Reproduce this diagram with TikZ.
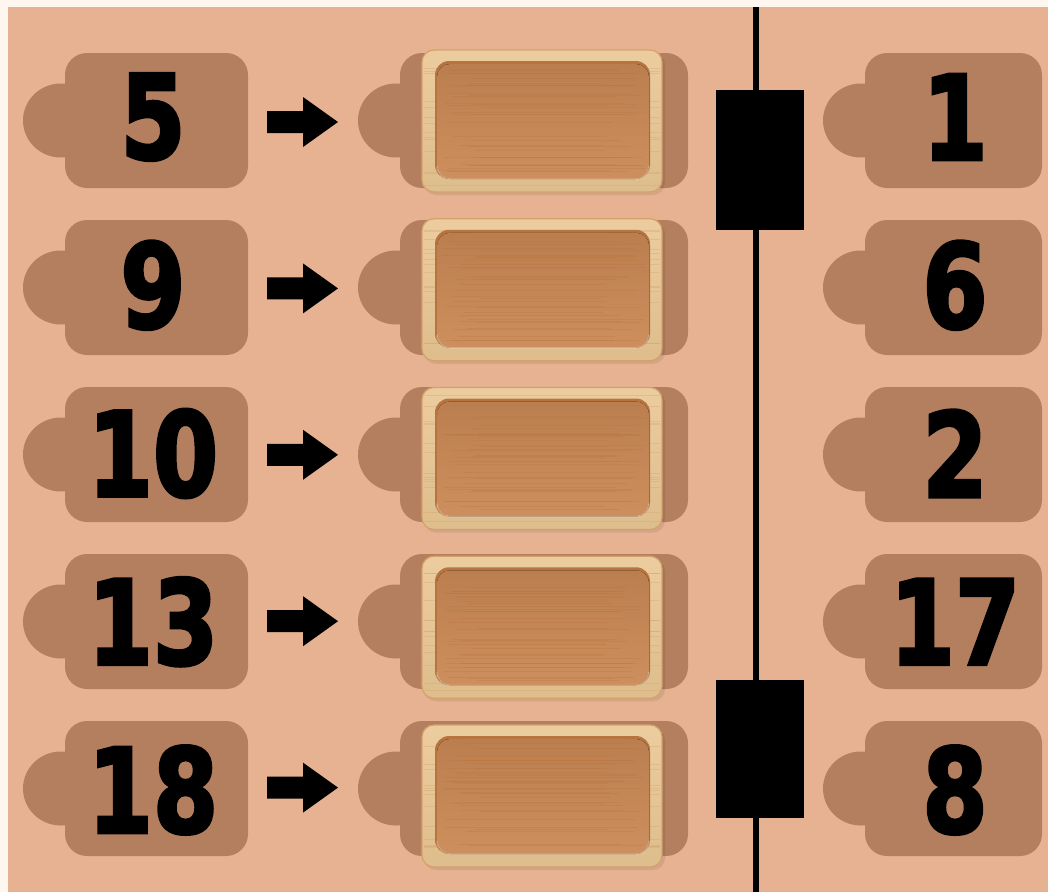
\documentclass[tikz,border=0pt]{standalone}
\usepackage{fontspec}
\usepackage{graphicx}
\usetikzlibrary{calc}
\newfontfamily\numfont{DejaVu Sans Bold}[FakeBold=3]
\definecolor{bg}{HTML}{E6B292}
\definecolor{tabc}{HTML}{B47F5F}
\definecolor{paper}{HTML}{FDF7F0}
\definecolor{woodlight}{HTML}{EAC794}
\definecolor{woodedge}{HTML}{D3A26B}
\definecolor{woodin}{HTML}{CB8955}
\definecolor{woodindark}{HTML}{B8743F}
\newcommand{\mytab}[3]{% bump left x, rect right x, centre y
  \fill[tabc] (#1+38,#3) ellipse[x radius=38pt,y radius=37pt];
  \fill[tabc, rounded corners=22pt] (#1+42,#3-67.5) rectangle (#2,#3+67.5);
}
\newcommand{\mytray}[2]{% centre x, centre y
  \fill[black,opacity=0.08, rounded corners=12pt] (#1-118,#2-68) rectangle (#1+123,#2+74);
  \filldraw[woodedge, line width=1.2pt, top color=woodlight!90!white, bottom color=woodlight!95!black, rounded corners=12pt] (#1-120,#2-71) rectangle (#1+120,#2+71);
  \foreach \k in {1,...,14} {
    \pgfmathsetmacro\gy{#2-69+rnd*138}
    \draw[woodedge, opacity=0.35, line width=0.5pt] (#1-118,\gy) -- (#1+118,\gy);
  }
  \fill[woodindark, rounded corners=14pt] (#1-107,#2-60) rectangle (#1+108,#2+58);
  \fill[top color=woodin!92!black, bottom color=woodin!95!white, rounded corners=13pt] (#1-105,#2-57) rectangle (#1+107,#2+58);
  \draw[white, opacity=0.35, line width=1pt, rounded corners=13pt] (#1-105,#2+50) -- (#1-105,#2+58) -- (#1+107,#2+58) -- (#1+107,#2+45);
  \foreach \k in {1,...,34} {
    \pgfmathsetmacro\gy{#2-54+rnd*108}
    \pgfmathsetmacro\gx{#1-100+rnd*40}
    \pgfmathsetmacro\gz{#1+60+rnd*44}
    \draw[woodindark, opacity=0.28, line width=0.5pt] (\gx,\gy) -- (\gz,\gy);
  }
}
\begin{document}
\begin{tikzpicture}[x=1pt,y=-1pt,
  numtext/.style={font=\numfont\fontsize{117}{117}\selectfont, inner sep=0pt, text=black},
  blockarrow/.style={fill=black},
  barbox/.style={fill=black},
  rail/.style={draw=black, line width=5.5pt}]
\pgfmathsetseed{7}
\fill[paper] (0,0) rectangle (1048,892);
\fill[bg] (8,7) rectangle (1048,892);
\useasboundingbox (0,0) rectangle (1048,892);
% rail
\coordinate (railtop) at (756,7);
\coordinate (railbot) at (756,892);
\draw[rail] (railtop) -- (railbot);
\fill[barbox] (716,90) rectangle (804,230);
\fill[barbox] (716,680) rectangle (804,818);
\foreach \l/\r [count=\i from 0] in {5/1,9/6,10/2,13/17,18/8} {
  \pgfmathsetmacro\tc{120.5+167*\i}
  \pgfmathsetmacro\dc{117+168.25*\i}
  \pgfmathsetmacro\rc{121+168.75*\i}
  \pgfmathsetmacro\ac{122+166.4*\i}
  \mytab{23}{248}{\tc}
  \mytab{358}{688}{\tc}
  \mytab{823}{1042}{\tc}
  \mytray{542}{\rc}
  \fill[blockarrow] (267,\ac-11) -- (303,\ac-11) -- (303,\ac-25) -- (338,\ac) -- (303,\ac+25) -- (303,\ac+11) -- (267,\ac+11) -- cycle;
  \node[numtext] (L\i) at (153,\dc) {\scalebox{0.8}[1]{\l}};
  \node[numtext] (R\i) at (955,\dc) {\scalebox{0.8}[1]{\r}};
}
\end{tikzpicture}
\end{document}
